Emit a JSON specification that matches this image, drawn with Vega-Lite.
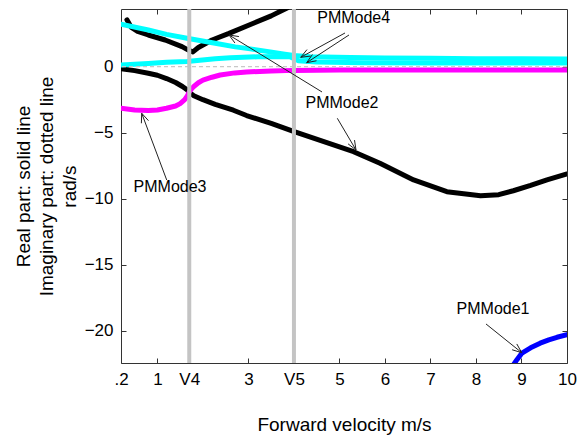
{
  "$schema": "https://vega.github.io/schema/vega-lite/v6.json",
  "width": 446,
  "height": 354,
  "autosize": {"type": "none"},
  "padding": {"left": 121, "top": 9, "right": 16, "bottom": 73},
  "background": "white",
  "config": {"view": {"stroke": null}, "font": "Liberation Sans", "axis": {"grid": false}},
  "datasets": {
    "curves": [
      {"series": "bk1", "x": 0.33, "y": 3.55}, {"series": "bk1", "x": 0.42, "y": 3.0}, {"series": "bk1", "x": 0.55, "y": 2.7}, {"series": "bk1", "x": 0.8, "y": 2.4}, {"series": "bk1", "x": 1.17, "y": 2.02}, {"series": "bk1", "x": 1.54, "y": 1.52}, {"series": "bk1", "x": 1.7, "y": 1.22}, {"series": "bk1", "x": 1.78, "y": 1.12}, {"series": "bk1", "x": 1.9, "y": 1.45}, {"series": "bk1", "x": 2.2, "y": 2.02}, {"series": "bk1", "x": 2.56, "y": 2.5}, {"series": "bk1", "x": 3.11, "y": 3.29}, {"series": "bk1", "x": 3.5, "y": 3.85}, {"series": "bk1", "x": 3.85, "y": 4.45},
      {"series": "bk2", "x": 0.2, "y": -0.15}, {"series": "bk2", "x": 0.5, "y": -0.3}, {"series": "bk2", "x": 0.8, "y": -0.5}, {"series": "bk2", "x": 1.0, "y": -0.65}, {"series": "bk2", "x": 1.2, "y": -0.9}, {"series": "bk2", "x": 1.4, "y": -1.2}, {"series": "bk2", "x": 1.55, "y": -1.5}, {"series": "bk2", "x": 1.65, "y": -1.75}, {"series": "bk2", "x": 1.72, "y": -2.0}, {"series": "bk2", "x": 1.8, "y": -2.2}, {"series": "bk2", "x": 2.0, "y": -2.5}, {"series": "bk2", "x": 2.27, "y": -2.85}, {"series": "bk2", "x": 2.67, "y": -3.3}, {"series": "bk2", "x": 2.96, "y": -3.7}, {"series": "bk2", "x": 3.5, "y": -4.3}, {"series": "bk2", "x": 3.99, "y": -4.9}, {"series": "bk2", "x": 4.43, "y": -5.42}, {"series": "bk2", "x": 5.31, "y": -6.44}, {"series": "bk2", "x": 5.89, "y": -7.32}, {"series": "bk2", "x": 6.63, "y": -8.58}, {"series": "bk2", "x": 7.36, "y": -9.47}, {"series": "bk2", "x": 8.1, "y": -9.78}, {"series": "bk2", "x": 8.5, "y": -9.7}, {"series": "bk2", "x": 8.82, "y": -9.4}, {"series": "bk2", "x": 9.2, "y": -9.0}, {"series": "bk2", "x": 9.56, "y": -8.58}, {"series": "bk2", "x": 10.0, "y": -8.13},
      {"series": "cy1", "x": 0.2, "y": 3.22}, {"series": "cy1", "x": 0.8, "y": 2.78}, {"series": "cy1", "x": 1.2, "y": 2.45}, {"series": "cy1", "x": 1.65, "y": 2.15}, {"series": "cy1", "x": 2.27, "y": 1.77}, {"series": "cy1", "x": 2.71, "y": 1.5}, {"series": "cy1", "x": 3.04, "y": 1.35}, {"series": "cy1", "x": 3.48, "y": 1.12}, {"series": "cy1", "x": 3.8, "y": 0.95}, {"series": "cy1", "x": 4.0, "y": 0.85}, {"series": "cy1", "x": 4.36, "y": 0.76}, {"series": "cy1", "x": 5.24, "y": 0.7}, {"series": "cy1", "x": 6, "y": 0.66}, {"series": "cy1", "x": 7, "y": 0.63}, {"series": "cy1", "x": 8, "y": 0.61}, {"series": "cy1", "x": 9, "y": 0.6}, {"series": "cy1", "x": 10, "y": 0.58},
      {"series": "cy2", "x": 0.2, "y": 0.12}, {"series": "cy2", "x": 0.8, "y": 0.25}, {"series": "cy2", "x": 1.2, "y": 0.33}, {"series": "cy2", "x": 1.65, "y": 0.4}, {"series": "cy2", "x": 2.27, "y": 0.6}, {"series": "cy2", "x": 2.6, "y": 0.68}, {"series": "cy2", "x": 3.2, "y": 0.75}, {"series": "cy2", "x": 3.9, "y": 0.78}, {"series": "cy2", "x": 4.1, "y": 0.45}, {"series": "cy2", "x": 4.5, "y": 0.35}, {"series": "cy2", "x": 5.5, "y": 0.3}, {"series": "cy2", "x": 7, "y": 0.28}, {"series": "cy2", "x": 10, "y": 0.27},
      {"series": "mg", "x": 0.2, "y": -3.15}, {"series": "mg", "x": 0.5, "y": -3.28}, {"series": "mg", "x": 0.8, "y": -3.32}, {"series": "mg", "x": 1.0, "y": -3.28}, {"series": "mg", "x": 1.2, "y": -3.15}, {"series": "mg", "x": 1.4, "y": -2.98}, {"series": "mg", "x": 1.5, "y": -2.8}, {"series": "mg", "x": 1.6, "y": -2.5}, {"series": "mg", "x": 1.66, "y": -2.2}, {"series": "mg", "x": 1.7, "y": -1.9}, {"series": "mg", "x": 1.75, "y": -1.68}, {"series": "mg", "x": 1.8, "y": -1.5}, {"series": "mg", "x": 1.9, "y": -1.22}, {"series": "mg", "x": 2.0, "y": -1.02}, {"series": "mg", "x": 2.2, "y": -0.8}, {"series": "mg", "x": 2.38, "y": -0.63}, {"series": "mg", "x": 2.7, "y": -0.47}, {"series": "mg", "x": 2.96, "y": -0.4}, {"series": "mg", "x": 3.5, "y": -0.33}, {"series": "mg", "x": 4.0, "y": -0.28}, {"series": "mg", "x": 5, "y": -0.26}, {"series": "mg", "x": 7, "y": -0.25}, {"series": "mg", "x": 10, "y": -0.25},
      {"series": "bl", "x": 8.82, "y": -22.6}, {"series": "bl", "x": 8.9, "y": -22.2}, {"series": "bl", "x": 9.01, "y": -21.7}, {"series": "bl", "x": 9.2, "y": -21.3}, {"series": "bl", "x": 9.41, "y": -20.95}, {"series": "bl", "x": 9.6, "y": -20.7}, {"series": "bl", "x": 9.78, "y": -20.5}, {"series": "bl", "x": 10.0, "y": -20.3}
    ],
    "arrows": [
      {"x": 5.122, "y": 2.553, "x2": 4.149, "y2": 0.712}, {"x": 4.149, "y": 0.712, "x2": 4.366, "y2": 0.803}, {"x": 4.149, "y": 0.712, "x2": 4.287, "y2": 1.295},
      {"x": 5.21, "y": 2.402, "x2": 4.28, "y2": 0.303}, {"x": 4.28, "y": 0.303, "x2": 4.496, "y2": 0.447}, {"x": 4.28, "y": 0.303, "x2": 4.406, "y2": 0.924},
      {"x": 4.617, "y": -1.917, "x2": 2.573, "y2": 2.402}, {"x": 2.573, "y": 2.402, "x2": 2.703, "y2": 1.795}, {"x": 2.573, "y": 2.402, "x2": 2.791, "y2": 2.28},
      {"x": 4.953, "y": -3.909, "x2": 5.364, "y2": -6.311}, {"x": 5.364, "y": -6.311, "x2": 5.331, "y2": -5.561}, {"x": 5.364, "y": -6.311, "x2": 5.19, "y2": -5.848},
      {"x": 1.204, "y": -8.583, "x2": 0.655, "y2": -3.53}, {"x": 0.655, "y": -3.53, "x2": 0.648, "y2": -4.288}, {"x": 0.655, "y": -3.53, "x2": 0.804, "y2": -4.091},
      {"x": 8.22, "y": -19.492, "x2": 9.005, "y2": -21.667}, {"x": 9.005, "y": -21.667, "x2": 8.897, "y2": -21.008}, {"x": 9.005, "y": -21.667, "x2": 8.794, "y2": -21.447}
    ],
    "labels": [
      {"x": 5.313, "y": 3.667, "text": "PMMode4"},
      {"x": 5.056, "y": -2.78, "text": "PMMode2"},
      {"x": 1.277, "y": -9.152, "text": "PMMode3"},
      {"x": 8.374, "y": -18.356, "text": "PMMode1"}
    ]
  },
  "layer": [
    {
      "data": {"name": "curves"},
      "mark": {"type": "line", "clip": true, "strokeWidth": 5, "strokeCap": "round", "strokeJoin": "round"},
      "encoding": {
        "x": {"field": "x", "type": "quantitative", "scale": {"domain": [0.2, 10], "nice": false, "zero": false},
          "axis": {"orient": "bottom", "values": [0.2, 1, 1.7, 3, 4, 5, 6, 7, 8, 9, 10],
            "labelExpr": "datum.value == 0.2 ? '.2' : datum.value == 1.7 ? 'V4' : datum.value == 4 ? 'V5' : datum.label",
            "title": "Forward velocity m/s", "titleFontSize": 19, "titleFontWeight": "normal", "titleColor": "#000",
            "titleY": 67, "titleBaseline": "alphabetic",
            "labelFontSize": 17, "labelColor": "#000", "labelBaseline": "alphabetic", "labelPadding": 26,
            "labelFlush": false, "labelOverlap": false, "labelBound": false,
            "tickSize": -5, "tickColor": "#333", "domainColor": "#333"}},
        "y": {"field": "y", "type": "quantitative", "scale": {"domain": [-22.45, 4.37], "nice": false, "zero": false},
          "axis": {"orient": "left", "values": [0, -5, -10, -15, -20],
            "title": ["Real part: solid line", "Imaginary part: dotted line", "rad/s"],
            "titleFontSize": 19, "titleFontWeight": "normal", "titleColor": "#000",
            "titleX": -98, "titleY": 177, "titleAngle": -90, "titleAlign": "center", "titleBaseline": "middle", "titleLineHeight": 23,
            "labelFontSize": 17, "labelColor": "#000", "labelPadding": 13, "labelFlush": false, "labelOverlap": false,
            "tickSize": -5, "tickColor": "#333", "domainColor": "#333"}},
        "color": {"field": "series", "type": "nominal",
          "scale": {"domain": ["bk1", "bk2", "cy1", "cy2", "mg", "bl"], "range": ["#000000", "#000000", "#00ffff", "#00ffff", "#ff00ff", "#0000ff"]},
          "legend": null}
      }
    },
    {
      "data": {"values": [{"y": 0}]},
      "mark": {"type": "rule", "color": "#c8c8c8", "strokeWidth": 1.2, "strokeDash": [4, 3]},
      "encoding": {
        "y": {"field": "y", "type": "quantitative", "scale": {"domain": [-22.45, 4.37], "nice": false, "zero": false},
          "axis": {"orient": "right", "values": [0, -5, -10, -15, -20], "labels": false, "title": null,
            "tickSize": -5, "tickColor": "#333", "domainColor": "#333"}}
      }
    },
    {
      "data": {"values": [{"x": 1.7}, {"x": 4}]},
      "mark": {"type": "rule", "color": "#c4c4c4", "strokeWidth": 4},
      "encoding": {
        "x": {"field": "x", "type": "quantitative", "scale": {"domain": [0.2, 10], "nice": false, "zero": false},
          "axis": {"orient": "top", "values": [1, 3, 5, 6, 7, 8, 9], "labels": false, "title": null,
            "tickSize": -5, "tickColor": "#333", "domainColor": "#333"}}
      }
    },
    {
      "data": {"name": "arrows"},
      "mark": {"type": "rule", "color": "#222222", "strokeWidth": 1},
      "encoding": {
        "x": {"field": "x", "type": "quantitative", "scale": {"domain": [0.2, 10], "nice": false, "zero": false}, "axis": null},
        "y": {"field": "y", "type": "quantitative", "scale": {"domain": [-22.45, 4.37], "nice": false, "zero": false}, "axis": null},
        "x2": {"field": "x2"},
        "y2": {"field": "y2"}
      }
    },
    {
      "data": {"name": "labels"},
      "mark": {"type": "text", "fontSize": 16, "font": "Liberation Sans", "align": "center", "baseline": "middle", "color": "#000"},
      "encoding": {
        "x": {"field": "x", "type": "quantitative", "scale": {"domain": [0.2, 10], "nice": false, "zero": false}, "axis": null},
        "y": {"field": "y", "type": "quantitative", "scale": {"domain": [-22.45, 4.37], "nice": false, "zero": false}, "axis": null},
        "text": {"field": "text"}
      }
    }
  ],
  "resolve": {"axis": {"x": "independent", "y": "independent"}}
}
